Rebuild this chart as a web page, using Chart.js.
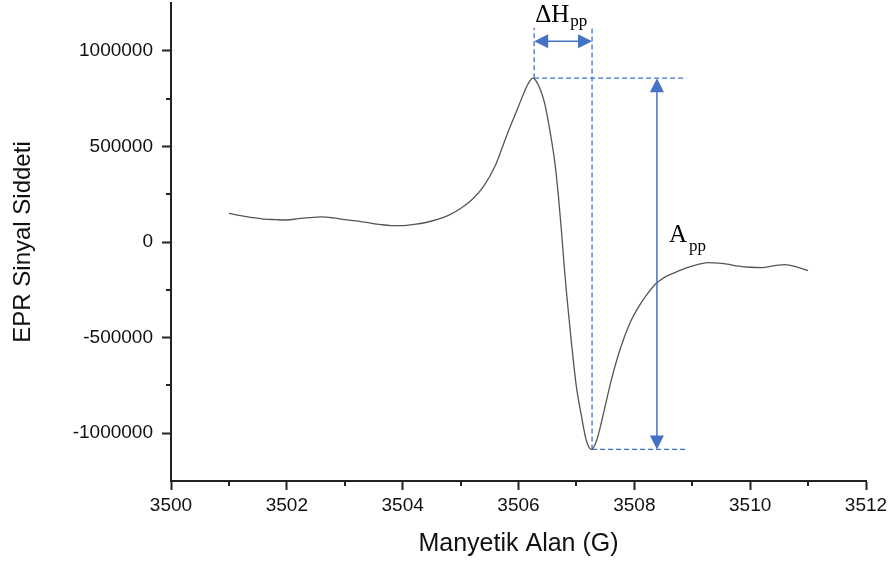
<!DOCTYPE html>
<html>
<head>
<meta charset="utf-8">
<script src="https://cdn.jsdelivr.net/npm/chart.js@4.4.1/dist/chart.umd.min.js"></script>
<style>
  html, body { margin: 0; padding: 0; background: #fff; }
  #wrap { width: 894px; height: 562px; }
</style>
</head>
<body>
<div id="wrap"><canvas id="epr"></canvas></div>
<script>
// EPR spectrum
const fieldG = [
  3501.0, 3501.2, 3501.4, 3501.6, 3501.8, 3502.0, 3502.2, 3502.4, 3502.6, 3502.8,
  3503.0, 3503.2, 3503.4, 3503.6, 3503.8, 3504.0, 3504.2, 3504.4, 3504.6, 3504.8,
  3505.0, 3505.2, 3505.4, 3505.6, 3505.8, 3505.9, 3506.0, 3506.1, 3506.18, 3506.25,
  3506.31, 3506.38, 3506.45, 3506.54, 3506.63, 3506.69, 3506.74, 3506.79, 3506.83, 3506.915,
  3507.0, 3507.09, 3507.17, 3507.26, 3507.35, 3507.46, 3507.6, 3507.75, 3507.92, 3508.04,
  3508.2, 3508.38, 3508.55, 3508.73, 3508.9, 3509.07, 3509.27, 3509.45, 3509.6, 3509.8,
  3510.0, 3510.2, 3510.4, 3510.6, 3510.8, 3511.0
];
const signal = [
  150000, 138000, 128000, 120000, 117000, 115000, 122000, 128000, 131000, 126000,
  117000, 110000, 101000, 92000, 86000, 86000, 92000, 102000, 118000, 141000,
  175000, 222000, 292000, 400000, 560000, 635000, 710000, 785000, 835000, 857000,
  839000, 795000, 728000, 586000, 410000, 237000, 63000, -129000, -269000, -530000,
  -758000, -915000, -1037000, -1085000, -1037000, -906000, -725000, -565000, -426000, -356000,
  -282000, -216000, -180000, -156000, -135000, -120000, -108000, -110000, -116000, -126000,
  -132000, -134000, -125000, -118000, -130000, -150000
];

// peak-to-peak markers
const peakPoint = [3506.27, 857000];
const troughPoint = [3507.27, -1085000];
const guideTop = 1120000;      // top of the two vertical guides
const widthArrowY = 1050000;   // height of the ΔHpp arrow
const guideEnd = 3508.9;       // right end of the horizontal guides
const ampArrowX = 3508.39;     // x of the App arrow

const xTicks = [3500, 3502, 3504, 3506, 3508, 3510, 3512];
const yTicks = [-1000000, -500000, 0, 500000, 1000000];

const BLUE = '#4472c4';
const AXIS = '#222';

const spectrum = fieldG.map((x, i) => ({ x: x, y: signal[i] }));

function guide(a, b) {
  return {
    data: [{ x: a[0], y: a[1] }, { x: b[0], y: b[1] }],
    borderColor: BLUE, borderWidth: 1.3, borderDash: [5, 3],
    pointRadius: 0, fill: false
  };
}

function arrowHead(ctx, x, y, dir) {
  // dir: 'up' | 'down' | 'left' | 'right', tip at (x, y)
  const L = 14, W = 7;
  ctx.beginPath();
  ctx.moveTo(x, y);
  if (dir === 'up') { ctx.lineTo(x - W, y + L); ctx.lineTo(x + W, y + L); }
  if (dir === 'down') { ctx.lineTo(x - W, y - L); ctx.lineTo(x + W, y - L); }
  if (dir === 'left') { ctx.lineTo(x + L, y - W); ctx.lineTo(x + L, y + W); }
  if (dir === 'right') { ctx.lineTo(x - L, y - W); ctx.lineTo(x - L, y + W); }
  ctx.closePath();
  ctx.fill();
}

const markers = {
  id: 'markers',
  afterDatasetsDraw(chart) {
    const ctx = chart.ctx;
    const xs = chart.scales.x, ys = chart.scales.y;
    ctx.save();
    ctx.strokeStyle = BLUE;
    ctx.fillStyle = BLUE;
    ctx.lineWidth = 1.5;

    // ΔHpp
    const x1 = xs.getPixelForValue(peakPoint[0]);
    const x2 = xs.getPixelForValue(troughPoint[0]);
    const yw = ys.getPixelForValue(widthArrowY);
    ctx.beginPath(); ctx.moveTo(x1 + 10, yw); ctx.lineTo(x2 - 10, yw); ctx.stroke();
    arrowHead(ctx, x1, yw, 'left');
    arrowHead(ctx, x2, yw, 'right');

    // App
    const xa = xs.getPixelForValue(ampArrowX);
    const ytop = ys.getPixelForValue(peakPoint[1]);
    const ybot = ys.getPixelForValue(troughPoint[1]);
    ctx.beginPath(); ctx.moveTo(xa, ytop + 10); ctx.lineTo(xa, ybot - 10); ctx.stroke();
    arrowHead(ctx, xa, ytop, 'up');
    arrowHead(ctx, xa, ybot, 'down');

    // labels
    ctx.fillStyle = '#000';
    ctx.textBaseline = 'alphabetic';
    ctx.font = '25px "Liberation Serif", "DejaVu Serif", serif';
    ctx.fillText('ΔH', x1 + 1, 22);
    let w = ctx.measureText('ΔH').width;
    ctx.font = '17px "Liberation Serif", "DejaVu Serif", serif';
    ctx.fillText('pp', x1 + 1 + w + 1, 26);

    ctx.font = '25px "Liberation Serif", "DejaVu Serif", serif';
    ctx.fillText('A', xa + 12, 242);
    w = ctx.measureText('A').width;
    ctx.font = '17px "Liberation Serif", "DejaVu Serif", serif';
    ctx.fillText('pp', xa + 12 + w + 2, 251);
    ctx.restore();
  },
  afterDraw(chart) {
    // minor ticks halfway between the major ones
    const ctx = chart.ctx;
    const xs = chart.scales.x, ys = chart.scales.y;
    const area = chart.chartArea;
    ctx.save();
    ctx.strokeStyle = AXIS;
    ctx.lineWidth = 2;
    ctx.beginPath();
    for (let i = 0; i < xTicks.length - 1; i++) {
      const px = Math.round(xs.getPixelForValue((xTicks[i] + xTicks[i + 1]) / 2));
      ctx.moveTo(px, area.bottom); ctx.lineTo(px, area.bottom + 5);
    }
    const yMinor = [-750000, -250000, 250000, 750000];
    yMinor.forEach(v => {
      const py = Math.round(ys.getPixelForValue(v));
      ctx.moveTo(area.left, py); ctx.lineTo(area.left - 5, py);
    });
    ctx.stroke();
    ctx.restore();
  }
};

const tickFont = { family: '"Liberation Sans", Arial, sans-serif', size: 19 };

new Chart(document.getElementById('epr'), {
  type: 'line',
  data: {
    datasets: [
      {
        data: spectrum,
        borderColor: '#555',
        borderWidth: 1.3,
        pointRadius: 0,
        cubicInterpolationMode: 'monotone',
        fill: false
      },
      guide(peakPoint, [peakPoint[0], guideTop]),
      guide(troughPoint, [troughPoint[0], guideTop]),
      guide(peakPoint, [guideEnd, peakPoint[1]]),
      guide(troughPoint, [guideEnd, troughPoint[1]])
    ]
  },
  options: {
    responsive: true,
    maintainAspectRatio: false,
    animation: false,
    layout: { padding: { top: 3, right: 28, left: 0, bottom: 0 } },
    plugins: { legend: { display: false }, tooltip: { enabled: false } },
    scales: {
      x: {
        type: 'linear',
        min: 3500, max: 3512,
        afterBuildTicks: s => { s.ticks = xTicks.map(v => ({ value: v })); },
        afterFit: s => { s.height = 81; s.paddingLeft = 0; s.paddingRight = 0; },
        border: { display: true, color: AXIS, width: 2 },
        grid: { drawOnChartArea: false, tickLength: 9, tickColor: AXIS, tickWidth: 2 },
        ticks: { color: '#111', font: tickFont, padding: 4, maxRotation: 0,
                 callback: v => String(v) },
        title: { display: true, text: 'Manyetik Alan (G)', color: '#111',
                 font: { family: '"Liberation Sans", Arial, sans-serif', size: 25 },
                 padding: { top: 4, bottom: 3 } }
      },
      y: {
        min: -1250000, max: 1250000,
        afterBuildTicks: s => { s.ticks = yTicks.map(v => ({ value: v })); },
        afterFit: s => { s.width = 171; s.paddingTop = 0; s.paddingBottom = 0; },
        border: { display: true, color: AXIS, width: 2 },
        grid: { drawOnChartArea: false, tickLength: 9, tickColor: AXIS, tickWidth: 2 },
        ticks: { color: '#111', font: tickFont, padding: 9, callback: v => String(v) },
        title: { display: true, text: 'EPR Sinyal Siddeti', color: '#111',
                 font: { family: '"Liberation Sans", Arial, sans-serif', size: 24 },
                 padding: { top: 9, bottom: 0 } }
      }
    }
  },
  plugins: [markers]
});
</script>
</body>
</html>
